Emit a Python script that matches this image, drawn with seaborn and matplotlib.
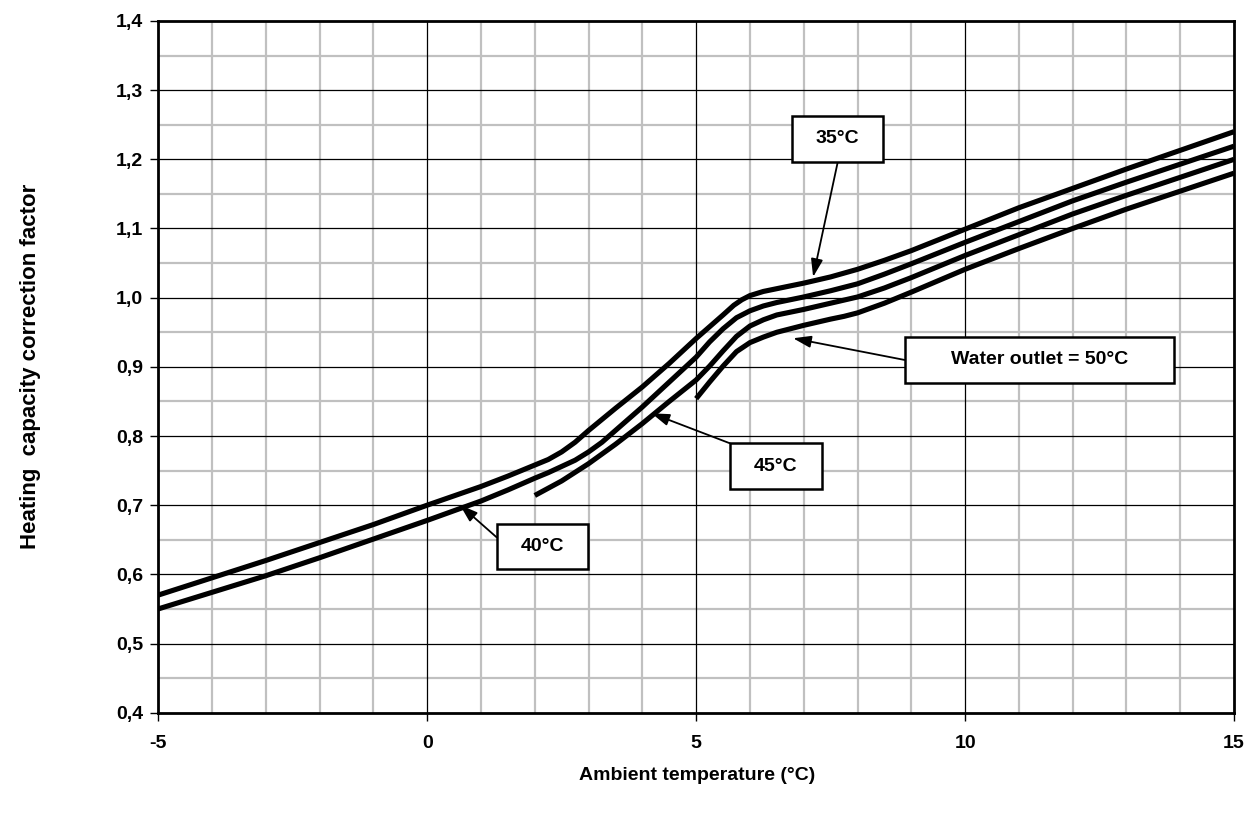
import numpy as np
import pandas as pd
import matplotlib
matplotlib.use("Agg")
import matplotlib.pyplot as plt
from matplotlib.patches import Rectangle
from matplotlib import font_manager
import seaborn as sns

# ---- data ----
x_35 = [-5, -4, -3, -2, -1, 0, 1, 1.5, 2, 2.25, 2.5, 2.75, 3, 3.5, 4, 4.5, 5, 5.25, 5.5, 5.7, 5.85, 6, 6.25, 6.5,
        7, 7.5, 8, 8.5, 9, 10, 11, 12, 13, 14, 15]
y_35 = [0.570, 0.595, 0.620, 0.646, 0.672, 0.700, 0.727, 0.742, 0.758, 0.766, 0.777, 0.791, 0.808, 0.840, 0.871,
        0.905, 0.941, 0.958, 0.975, 0.989, 0.997, 1.003, 1.009, 1.013, 1.021, 1.030, 1.041, 1.054, 1.068, 1.099,
        1.130, 1.158, 1.186, 1.213, 1.240]

x_40 = [-5, -4, -3, -2, -1, 0, 1, 1.5, 2, 2.25, 2.5, 2.75, 3, 3.25, 3.5, 4, 4.5, 5, 5.25, 5.5, 5.75, 6, 6.25, 6.5,
        7, 7.5, 8, 8.5, 9, 10, 11, 12, 13, 14, 15]
y_40 = [0.550, 0.574, 0.598, 0.624, 0.651, 0.678, 0.706, 0.722, 0.739, 0.747, 0.756, 0.765, 0.777, 0.791, 0.808,
        0.842, 0.878, 0.914, 0.936, 0.955, 0.971, 0.981, 0.988, 0.993, 1.001, 1.010, 1.020, 1.034, 1.049, 1.080,
        1.110, 1.140, 1.167, 1.193, 1.219]

x_45 = [2, 2.5, 3, 3.5, 4, 4.5, 5, 5.25, 5.5, 5.75, 6, 6.25, 6.5, 7, 7.5, 8, 8.5, 9, 10, 11, 12, 13, 14, 15]
y_45 = [0.714, 0.735, 0.760, 0.788, 0.818, 0.850, 0.881, 0.901, 0.923, 0.944, 0.959, 0.968, 0.975, 0.983, 0.992,
        1.001, 1.014, 1.029, 1.061, 1.091, 1.121, 1.148, 1.174, 1.200]

x_50 = [5, 5.25, 5.5, 5.75, 6, 6.25, 6.5, 7, 7.5, 7.75, 8, 8.5, 9, 10, 11, 12, 13, 14, 15]
y_50 = [0.854, 0.878, 0.901, 0.922, 0.935, 0.943, 0.950, 0.960, 0.969, 0.973, 0.978, 0.992, 1.008, 1.041, 1.071,
        1.100, 1.128, 1.154, 1.180]

series_names = ["35°C", "40°C", "45°C", "Water outlet = 50°C"]
x_ticks = [-5, 0, 5, 10, 15]
y_ticks = [0.4, 0.5, 0.6, 0.7, 0.8, 0.9, 1.0, 1.1, 1.2, 1.3, 1.4]
y_tick_labels = ["0,4", "0,5", "0,6", "0,7", "0,8", "0,9", "1,0", "1,1", "1,2", "1,3", "1,4"]
x_label = "Ambient temperature (°C)"
y_label = "Heating  capacity correction factor"

# ---- build data frame ----
frames = []
for name, xs, ys in zip(series_names, [x_35, x_40, x_45, x_50], [y_35, y_40, y_45, y_50]):
    frames.append(pd.DataFrame({"x": xs, "y": ys, "series": name}))
df = pd.concat(frames, ignore_index=True)

sns.set_theme(style="white")
avail = {f.name for f in font_manager.fontManager.ttflist}
fam = "Liberation Sans Narrow" if "Liberation Sans Narrow" in avail else "Liberation Sans"
plt.rcParams["font.family"] = [fam, "DejaVu Sans"]
plt.rcParams["font.weight"] = "bold"
plt.rcParams["text.color"] = "black"
plt.rcParams["xtick.color"] = "black"
plt.rcParams["ytick.color"] = "black"

fig = plt.figure(figsize=(12.56, 8.17), dpi=100)
ax = fig.add_axes([0.126, 0.1277, 0.8565, 0.8466])

# grid: minor gray, major black
for xv in np.arange(-4, 15, 1):
    if xv % 5 != 0:
        ax.axvline(xv, color="#c0c0c0", lw=1.6, zorder=0)
for yv in np.arange(0.45, 1.4, 0.1):
    ax.axhline(yv, color="#c0c0c0", lw=1.6, zorder=0)
for xv in [0, 5, 10]:
    ax.axvline(xv, color="black", lw=0.9, zorder=0.5)
for yv in np.arange(0.5, 1.35, 0.1):
    ax.axhline(yv, color="black", lw=0.9, zorder=0.5)

sns.lineplot(data=df, x="x", y="y", units="series", estimator=None, color="black",
             linewidth=3.7, sort=False, ax=ax, zorder=3, legend=False)
for line in ax.get_lines():
    line.set_solid_capstyle("butt")
    line.set_solid_joinstyle("round")

ax.set_xlim(-5, 15)
ax.set_ylim(0.4, 1.4)
ax.set_xticks(x_ticks)
ax.set_xticklabels([str(v) for v in x_ticks], fontsize=14, fontweight="bold", color="black")
ax.set_yticks(y_ticks)
ax.set_yticklabels(y_tick_labels, fontsize=14, fontweight="bold", color="black")
ax.tick_params(axis="both", which="major", direction="out", length=6, width=1, color="black",
               bottom=True, left=True)
ax.tick_params(axis="x", pad=10)
ax.tick_params(axis="y", pad=5)
for s in ax.spines.values():
    s.set_color("black")
    s.set_linewidth(2)

ax.set_xlabel("")
ax.set_ylabel("")
fig.text(697 / 1256, 1 - 776 / 817, x_label, ha="center", va="center", fontsize=14, fontweight="bold",
         color="black")
fig.text(31 / 1256, 1 - 366 / 817, y_label, ha="center", va="center", rotation=90, fontsize=16,
         fontweight="bold", color="black")

# annotation boxes: (x0, x1, y0, y1), arrow start, arrow tip
boxes = [
    ((6.773, 8.465, 1.1966, 1.2627), (7.634, 1.1966), (7.175, 1.030)),
    ((1.290, 2.993, 0.6073, 0.6724), (1.290, 0.6536), (0.608, 0.7003)),
    ((5.626, 7.331, 0.7234, 0.7895), (5.626, 0.7895), (4.171, 0.8328)),
    ((8.879, 13.885, 0.8762, 0.9436), (8.879, 0.9099), (6.803, 0.9413)),
]
for name, (bx, start, tip) in zip(series_names, boxes):
    x0, x1, y0, y1 = bx
    ax.annotate("", xy=tip, xytext=start,
                arrowprops=dict(arrowstyle="-|>,head_length=0.9,head_width=0.3", color="black",
                                lw=1.3, shrinkA=0, shrinkB=0), zorder=5)
    ax.add_patch(Rectangle((x0, y0), x1 - x0, y1 - y0, facecolor="white", edgecolor="black",
                           lw=1.8, zorder=6))
    ax.text((x0 + x1) / 2, (y0 + y1) / 2, name, ha="center", va="center", fontsize=14,
            fontweight="bold", color="black", zorder=7)

fig.savefig("out.png", dpi=100)
